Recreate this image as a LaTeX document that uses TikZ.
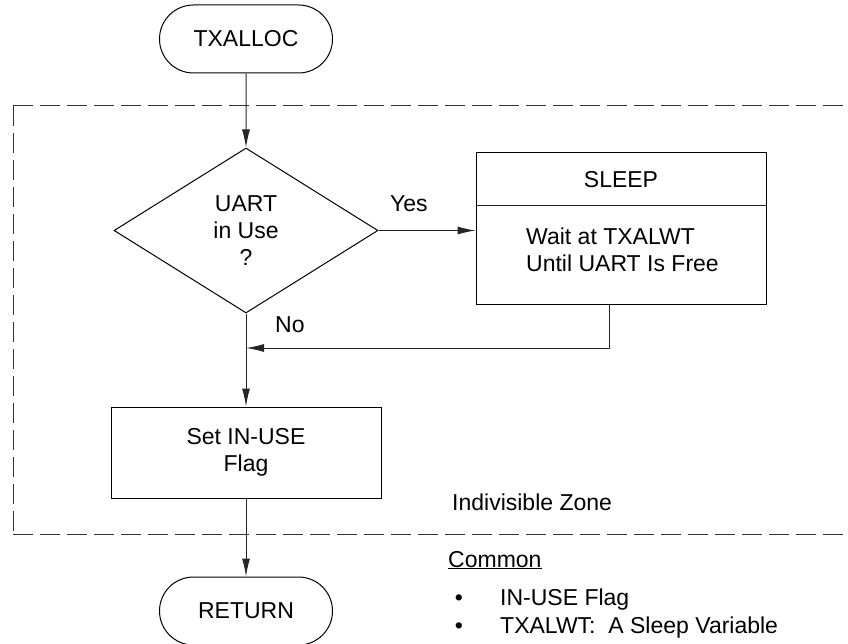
\documentclass[tikz,border=0pt]{standalone}
\usepackage{fontspec}
\setmainfont{Liberation Sans}
\usetikzlibrary{shapes.geometric,shapes.misc,arrows.meta}
\begin{document}
\begin{tikzpicture}[x=1pt,y=-1pt,
  every node/.style={font=\fontsize{23}{27}\selectfont, inner sep=0pt},
  conn/.style={line width=1pt, draw=black!85},
  arr/.style={conn, -{Latex[length=18pt,width=8pt]}},
  term/.style={draw, line width=1pt, rounded rectangle, minimum width=173pt, minimum height=68pt},
  procbox/.style={draw, line width=1pt, rectangle},
  zone/.style={line width=1pt, draw=black!80, dash pattern=on 20pt off 7pt}]
\useasboundingbox (0,0) rectangle (848,644);
% indivisible zone
\coordinate (zTL) at (13,106);
\coordinate (zTR) at (848,106);
\coordinate (zBL) at (13,534);
\coordinate (zBR) at (848,534);
\draw[zone] (zTL) -- (zTR);
\draw[zone] (zTL) -- (zBL);
\draw[zone] (zBL) -- (zBR);
% nodes
\node[term] (start) at (246,39) {TXALLOC};
\node[draw, diamond, line width=1pt, minimum width=264pt, minimum height=165pt, align=center] (dec) at (246,230.5) {UART\\in Use\\?};
\node[procbox, minimum width=290pt, minimum height=151pt] (sleep) at (621,228.5) {};
\coordinate (divL) at (476,206);
\coordinate (divR) at (766,206);
\draw[conn] (divL) -- (divR);
\node[anchor=base] (sleeptitle) at (621,188) {SLEEP};
\node[anchor=west, align=left] (sleeptext) at (526,250) {Wait at TXALWT\\Until UART Is Free};
\node[procbox, minimum width=270pt, minimum height=91pt, align=center] (setf) at (246,452.5) {Set IN-USE\\Flag};
\node[term] (ret) at (246,611) {RETURN};
% connectors
\draw[arr] (start) -- (dec);
\draw[arr] (dec.east) -- (sleep.west |- dec.east);
\draw[arr] (dec.south) -- (setf.north);
\coordinate (rs) at (609,304);
\coordinate (join) at (246,348);
\draw[arr] (rs) |- (join);
\draw[arr] (setf.south) -- (ret.north);
% labels
\node[anchor=base west] (yes) at (390,212) {Yes};
\node[anchor=base west] (no) at (275,332) {No};
\node[anchor=base west] (zonelbl) at (452,510) {Indivisible Zone};
\node[anchor=base west] (common) at (448,567) {\underline{Common}};
\node[anchor=base] (b1) at (459,605) {•};
\node[anchor=base west] (t1) at (500,605) {IN-USE Flag};
\node[anchor=base] (b2) at (459,633) {•};
\node[anchor=base west] (t2) at (500,633) {TXALWT:\ \ A Sleep Variable};
\end{tikzpicture}
\end{document}
